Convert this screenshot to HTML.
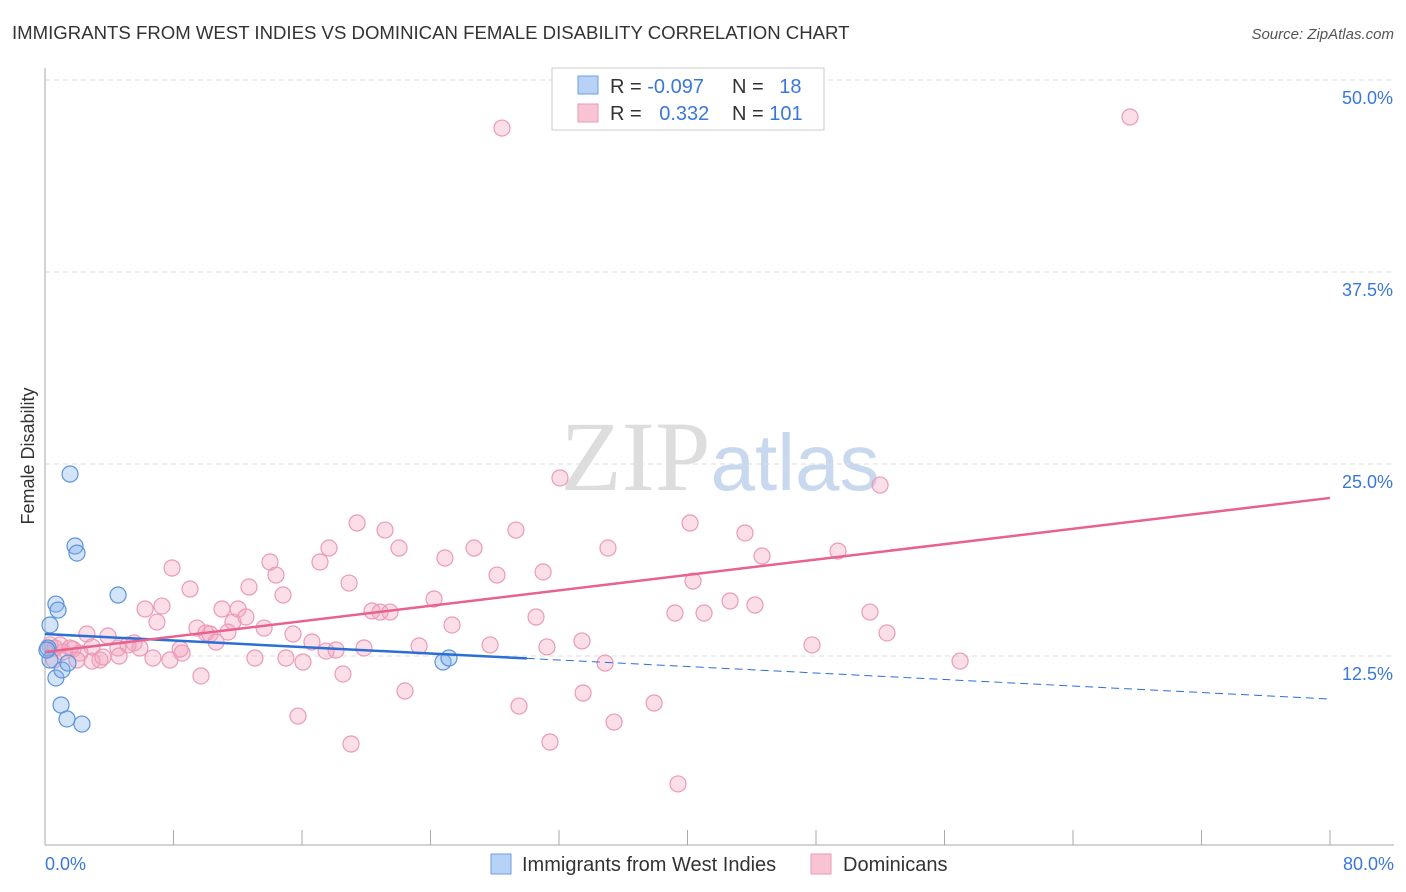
<!DOCTYPE html>
<html><head><meta charset="utf-8"><style>
body{margin:0;background:#fff;font-family:"Liberation Sans",sans-serif;}
svg{display:block}
</style></head><body>
<svg id="chart" width="1406" height="892">
<text x="12" y="39" font-size="18.6" fill="#333">IMMIGRANTS FROM WEST INDIES VS DOMINICAN FEMALE DISABILITY CORRELATION CHART</text>
<text x="1394" y="39" font-size="15" fill="#555" font-style="italic" text-anchor="end">Source: ZipAtlas.com</text>
<text x="720" y="490" font-size="100" fill="#ddd" text-anchor="middle" font-family="Liberation Serif,serif">ZIP<tspan fill="#c8d8ee" font-family="Liberation Sans,sans-serif" font-size="80">atlas</tspan></text>
<g id="grid"></g>
<g id="axes"></g>
<g id="pts"></g>
<g id="trends"></g>
<text x="34" y="456" font-size="18" fill="#333" text-anchor="middle" transform="rotate(-90 34 456)">Female Disability</text>
<g>
<rect x="552" y="68" width="272" height="62" fill="#fff" stroke="#ccc"/>
<rect x="578" y="76" width="20" height="18" fill="#b7d2f4" stroke="#6a9fe0"/>
<rect x="578" y="104" width="20" height="18" fill="#f8c4d4" stroke="#e89ab5"/>
<text x="610" y="93" font-size="20" fill="#333">R = <tspan fill="#3a78d8">-0.097</tspan></text>
<text x="732" y="93" font-size="20" fill="#333">N = <tspan fill="#3a78d8" dx="10">18</tspan></text>
<text x="610" y="120" font-size="20" fill="#333">R = <tspan fill="#3a78d8" dx="12">0.332</tspan></text>
<text x="732" y="120" font-size="20" fill="#333">N = <tspan fill="#3a78d8">101</tspan></text>
</g>
<g>
<rect x="491" y="854" width="20" height="20" fill="#b7d2f4" stroke="#6a9fe0"/>
<text x="522" y="871" font-size="20" fill="#333">Immigrants from West Indies</text>
<rect x="811" y="854" width="20" height="20" fill="#f8c4d4" stroke="#e89ab5"/>
<text x="843" y="871" font-size="20" fill="#333">Dominicans</text>
</g>
</svg>
<script>
const yTicks=[12.5,25,37.5,50];
const yTickLabels=["12.5%","25.0%","37.5%","50.0%"];
const xTickLabels=["0.0%","80.0%"];
const blueX=[1.56,1.87,1.99,0.68,0.81,4.55,0.31,0.19,0.31,0.68,1.06,1.43,1.00,1.37,2.30,24.78,25.15,0.12];
const blueY=[24.35,19.66,19.20,15.88,15.49,16.47,14.52,13.02,12.24,11.07,11.59,12.04,9.31,8.40,8.07,12.11,12.37,12.89];
const pinkX=[28.45,67.55,32.06,51.99,19.43,21.17,29.32,40.16,43.58,49.37,35.05,17.68,22.04,26.71,24.90,44.64,7.91,14.01,17.12,14.38,28.14,31.01,40.34,18.93,9.03,12.70,14.82,24.22,6.23,7.28,11.02,12.02,20.36,20.86,21.48,30.57,39.22,41.03,42.65,44.20,51.36,6.97,12.51,11.70,13.64,9.46,10.27,10.02,11.39,25.34,52.42,2.61,3.92,5.54,5.91,4.54,5.17,2.93,1.74,1.12,0.62,0.31,0.93,1.56,2.18,3.42,2.93,4.61,3.61,6.72,7.78,8.53,8.41,10.65,15.44,16.62,17.50,18.12,19.86,23.29,27.71,31.25,33.43,47.75,56.97,13.07,15.00,16.06,34.87,9.71,18.55,22.41,33.50,29.51,37.92,15.75,35.43,19.05,31.44,39.41,1.99,0.56];
const pinkY=[46.87,47.59,24.09,23.63,21.16,20.70,20.70,21.16,20.51,19.33,19.53,19.53,19.53,19.53,18.88,19.01,18.23,18.62,18.62,17.77,17.77,17.97,17.38,17.25,16.86,16.99,16.47,16.21,15.56,15.75,15.56,15.56,15.43,15.36,15.36,15.04,15.30,15.30,16.08,15.82,15.36,14.71,15.04,14.71,14.32,14.32,13.93,14.00,14.06,14.52,14.00,13.93,13.80,13.35,13.02,13.02,13.22,13.09,12.95,12.76,13.02,13.22,13.22,13.02,12.69,12.24,12.17,12.50,12.43,12.37,12.24,12.69,12.95,13.41,13.93,13.41,12.82,12.89,13.02,13.15,13.22,13.09,13.48,13.22,12.17,12.37,12.37,12.11,12.04,11.20,11.33,10.22,10.09,9.24,9.44,8.59,8.20,6.77,6.90,4.17,12.24,12.24];
const blueTrend=[13.93,9.70];
const blueSolidEnd=30;
const pinkTrend=[12.76,22.79];

const NS="http://www.w3.org/2000/svg";
const sx=v=>45+v/80*1285;
const sy=v=>848-v/12.5*192;
function mk(tag,attrs,parent){const e=document.createElementNS(NS,tag);for(const k in attrs)e.setAttribute(k,attrs[k]);document.getElementById(parent).appendChild(e);return e;}
yTicks.forEach((t,i)=>{
 const g=mk('line',{x1:45,x2:1394,y1:sy(t),y2:sy(t),stroke:'#ddd','stroke-dasharray':'5,4'},'grid');
 
 
 const l=mk('text',{x:1393,y:sy(t)+24,'font-size':18,fill:'#3a78d8','text-anchor':'end'},'grid');
 l.textContent=yTickLabels[i];
 
 
});
const ya=mk('line',{x1:45,x2:45,y1:68,y2:845,stroke:'#aaa'},'axes');


const xa=mk('line',{x1:45,x2:1394,y1:845,y2:845,stroke:'#aaa'},'axes');


for(let i=0;i<=10;i++){
 const t=mk('line',{x1:sx(i*8),x2:sx(i*8),y1:830,y2:845,stroke:'#aaa'},'axes');
 
 
}
[[0,'start',45],[80,'end',1394]].forEach((d,i)=>{
 const l=mk('text',{x:d[2],y:870,'font-size':18,fill:'#3a78d8','text-anchor':d[1]},'axes');
 l.textContent=xTickLabels[i];
 
 
});
pinkX.forEach((x,i)=>{
 const c=mk('circle',{cx:sx(x),cy:sy(pinkY[i]),r:8,fill:'rgba(244,160,190,0.35)',stroke:'#eb9ab7','stroke-width':1.2},'pts');
 
 
});
blueX.forEach((x,i)=>{
 const c=mk('circle',{cx:sx(x),cy:sy(blueY[i]),r:8,fill:'rgba(130,175,235,0.35)',stroke:'#5b93dc','stroke-width':1.2},'pts');
 
 
});
const bAt=x=>blueTrend[0]+(blueTrend[1]-blueTrend[0])*x/80;
const b1=mk('line',{x1:sx(0),y1:sy(bAt(0)),x2:sx(blueSolidEnd),y2:sy(bAt(blueSolidEnd)),stroke:'#2a6fd6','stroke-width':2.5},'trends');


const b2=mk('line',{x1:sx(blueSolidEnd),y1:sy(bAt(blueSolidEnd)),x2:sx(80),y2:sy(bAt(80)),stroke:'#2a6fd6','stroke-width':1,'stroke-dasharray':'8,5'},'trends');


const p=mk('line',{x1:sx(0),y1:sy(pinkTrend[0]),x2:sx(80),y2:sy(pinkTrend[1]),stroke:'#e8628e','stroke-width':2.5},'trends');


</script>
</body></html>
